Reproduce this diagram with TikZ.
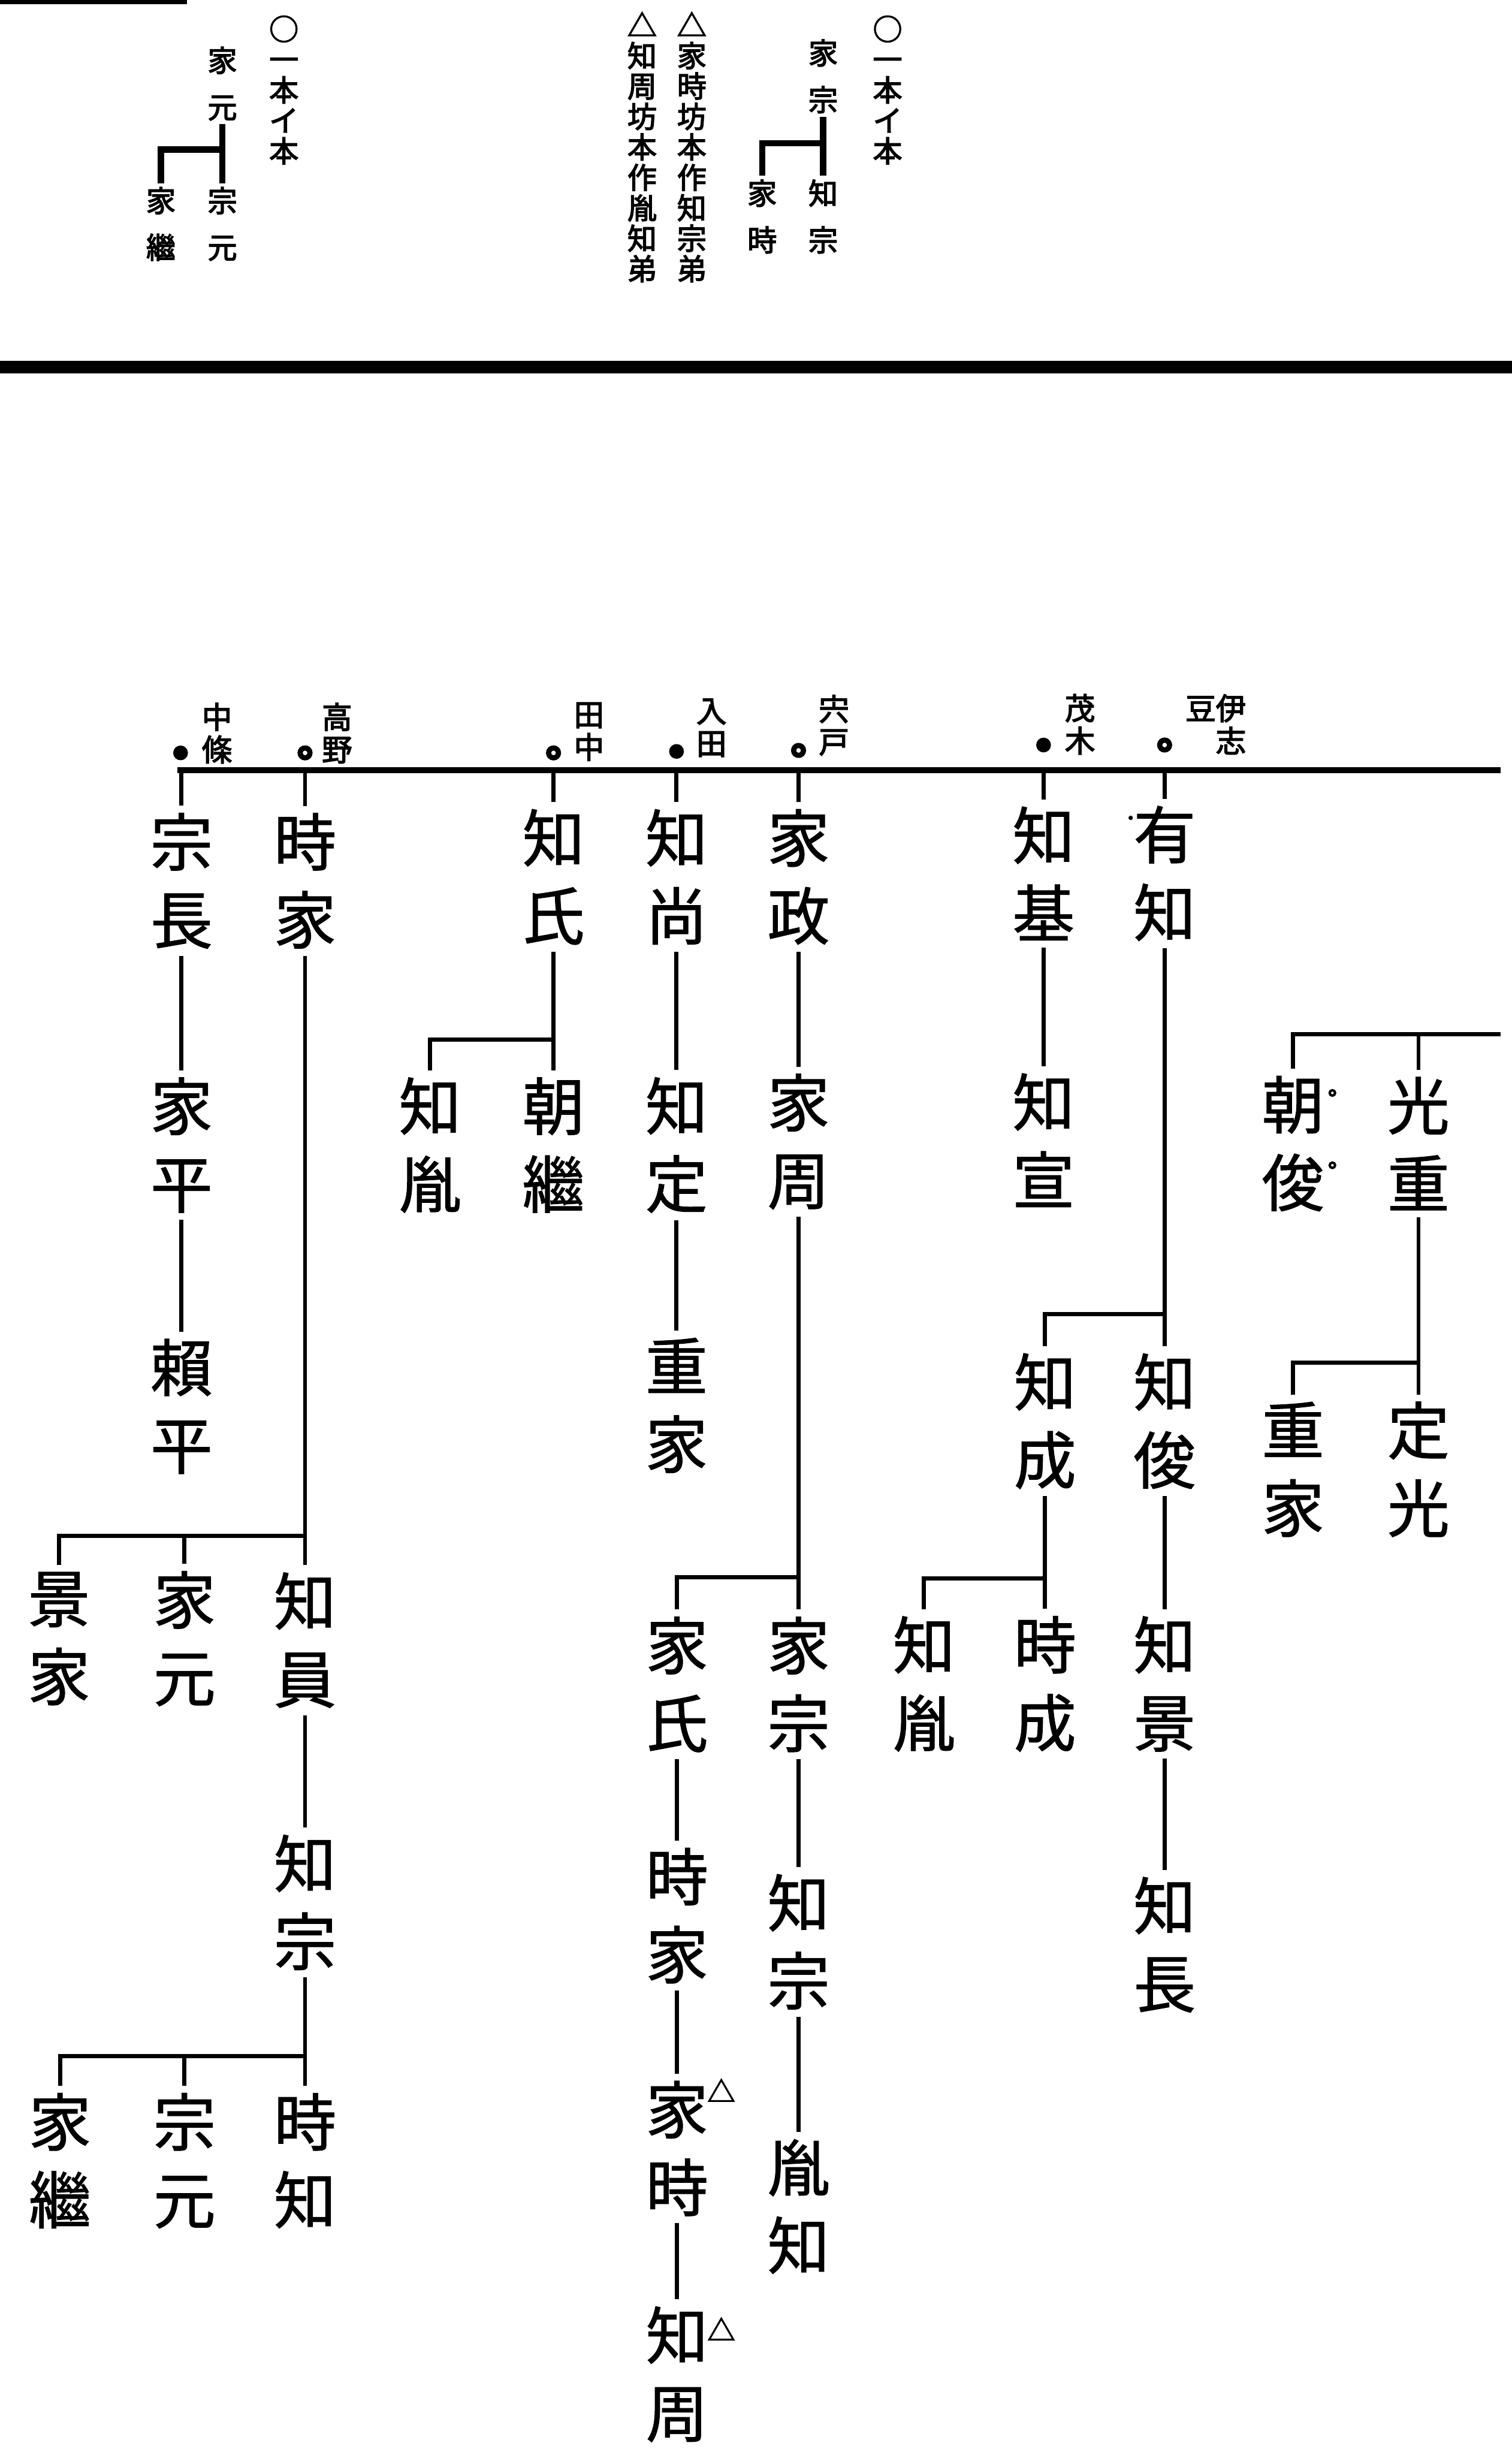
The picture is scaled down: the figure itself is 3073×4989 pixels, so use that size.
\documentclass[tikz,border=0pt]{standalone}
\usepackage{fontspec}
\newfontfamily\jp[FakeBold=1.1]{Noto Sans CJK JP}
\newfontfamily\jpb[AutoFakeBold=3]{Noto Sans CJK JP}
\usetikzlibrary{positioning}

\begin{document}
\begin{tikzpicture}[
  x=0.01cm, y=-0.01cm,
  nm/.style={font=\jp\fontsize{36}{45}\selectfont, align=center, inner xsep=0pt, inner ysep=4pt},
  lbl/.style={font=\jpb\bfseries\fontsize{17.5}{18.8}\selectfont, align=center, inner sep=0pt},
  note/.style={font=\jpb\bfseries\fontsize{17}{17.6}\selectfont, align=center, inner sep=0pt},
  tnm/.style={font=\jpb\bfseries\fontsize{17}{27}\selectfont, align=center, inner xsep=0pt, inner ysep=2pt},
  tri/.style={font=\jpb\bfseries\fontsize{16}{16}\selectfont, inner sep=0pt},
  ln/.style={line width=2.4pt},
  tln/.style={line width=3.6pt},
  sdot/.style={circle, fill, inner sep=0pt, minimum size=0.3cm},
  odot/.style={circle, draw, line width=3pt, inner sep=0pt, minimum size=0.2cm},
  rmark/.style={circle, draw, line width=1.4pt, inner sep=0pt, minimum size=0.11cm}
]
  \useasboundingbox[fill=white] (0,0) rectangle (3073,4989);

  % top part
  \fill (0,0) rectangle (380,9);
  \node[note] (alt1) at (577,183) {○\\一\\本\\イ\\本};
  \node[tnm] (ieto) at (452,170) {家\\元};
  \node[tnm] (muneto) at (452,455) {宗\\元};
  \node[tnm] (ietsu0) at (327,455) {家\\繼};
  \coordinate (tj1) at (452,304);
  \draw[tln] (ieto.south) -- (muneto.north);
  \draw[tln] (tj1) -| (ietsu0.north);

  \node[note] (tri2) at (1305,299) {△\\知\\周\\坊\\本\\作\\胤\\知\\弟};
  \node[note] (tri1) at (1406,299) {△\\家\\時\\坊\\本\\作\\知\\宗\\弟};
  \node[note] (alt2) at (1804,183) {○\\一\\本\\イ\\本};
  \node[tnm] (iemune0) at (1673,155) {家\\宗};
  \node[tnm] (tomomune0) at (1673,440) {知\\宗};
  \node[tnm] (ietoki0) at (1549,440) {家\\時};
  \coordinate (tj2) at (1673,291);
  \draw[tln] (iemune0.south) -- (tomomune0.north);
  \draw[tln] (tj2) -| (ietoki0.north);

  \draw[line width=7.4pt] (0,746) -- (3073,746);

  % branch names over the rule
  \node[lbl] (chujo) at (441,1490) {中\\條};
  \node[lbl] (takano) at (685,1490) {高\\野};
  \node[lbl] (tanaka) at (1197,1487) {田\\中};
  \node[lbl] (irita) at (1446,1479) {入\\田};
  \node[lbl] (shishido) at (1695,1474) {宍\\戸};
  \node[lbl] (motegi) at (2195,1472) {茂\\木};
  \node[lbl] (ishi) at (2471,1472) {豆伊\\\hphantom{豆}志};
  \node[sdot] (d1) at (367,1530) {};
  \node[odot] (d2) at (620,1530) {};
  \node[odot] (d3) at (1125,1530) {};
  \node[sdot] (d4) at (1375,1527) {};
  \node[odot] (d5) at (1623,1525) {};
  \node[sdot] (d6) at (2121,1514) {};
  \node[odot] (d7) at (2367,1514) {};

  \coordinate (ruleL) at (360,1565);
  \coordinate (ruleR) at (3050,1565);
  \draw[line width=3.4pt] (ruleL) -- (ruleR);

  % first generation
  \node[nm] (munenaga) at (369,1790) {宗\\長};
  \node[nm] (tokiie) at (620,1790) {時\\家};
  \node[nm] (tomouji) at (1125,1782) {知\\氏};
  \node[nm] (tomohisa) at (1375,1782) {知\\尚};
  \node[nm] (iemasa) at (1623,1782) {家\\政};
  \node[nm] (tomomoto) at (2121,1775) {知\\基};
  \node[nm] (aritomo) at (2367,1775) {有\\知};
  \node[sdot, minimum size=0.09cm] (pt1) at (2298,1662) {};

  % second row
  \node[nm] (iehira) at (369,2327) {家\\平};
  \node[nm] (tomotane) at (874,2327) {知\\胤};
  \node[nm] (asatsugu) at (1125,2327) {朝\\繼};
  \node[nm] (tomosada) at (1375,2327) {知\\定};
  \node[nm] (iechika) at (1623,2320) {家\\周};
  \node[nm] (tomonobu) at (2121,2317) {知\\宣};
  \node[nm] (asatoshi) at (2628,2324) {朝\\俊};
  \node[nm] (mitsushige) at (2883,2324) {光\\重};
  \node[rmark] (m1) at (2708,2221) {};
  \node[rmark] (m2) at (2708,2368) {};

  % third row
  \node[nm] (yorihira) at (369,2858) {賴\\平};
  \node[nm] (shigeie) at (1375,2856) {重\\家};
  \node[nm] (tomonari) at (2124,2888) {知\\成};
  \node[nm] (tomotoshi) at (2367,2888) {知\\俊};
  \node[nm] (shigeie2) at (2628,2986) {重\\家};
  \node[nm] (sadamitsu) at (2883,2986) {定\\光};

  % fourth row
  \node[nm] (kageie) at (120,3330) {景\\家};
  \node[nm] (iemoto) at (375,3330) {家\\元};
  \node[nm] (tomokazu) at (620,3333) {知\\員};
  \node[nm] (ieuji) at (1376,3423) {家\\氏};
  \node[nm] (iemune) at (1623,3423) {家\\宗};
  \node[nm] (tomotane2) at (1878,3422) {知\\胤};
  \node[nm] (tokinari) at (2124,3422) {時\\成};
  \node[nm] (tomokage) at (2367,3422) {知\\景};

  % fifth row
  \node[nm] (tomomune) at (620,3866) {知\\宗};
  \node[nm] (tokiie2) at (1376,3893) {時\\家};
  \node[nm] (tomomune2) at (1623,3946) {知\\宗};
  \node[nm] (tomonaga) at (2367,3952) {知\\長};

  % sixth row
  \node[nm] (ietsugu) at (122,4391) {家\\繼};
  \node[nm] (munemoto) at (375,4391) {宗\\元};
  \node[nm] (tokitomo) at (620,4391) {時\\知};
  \node[nm] (ietoki) at (1376,4366) {家\\時};
  \node[nm] (tanetomo) at (1623,4484) {胤\\知};
  \node[nm] (tomochika) at (1376,4825) {知\\周};
  \node[tri] (tr1) at (1466,4248) {△};
  \node[tri] (tr2) at (1466,4733) {△};

  % drops from the rule
  \foreach \n in {munenaga, tokiie, tomouji, tomohisa, iemasa, tomomoto, aritomo}
    \draw[ln] (\n.north) -- (\n.north |- ruleL);

  % lines of descent
  \draw[ln] (munenaga.south) -- (iehira.north);
  \draw[ln] (iehira.south) -- (yorihira.north);
  \draw[ln] (tokiie.south) -- (tomokazu.north);
  \coordinate (j1) at (620,3121);
  \draw[ln] (j1) -| (kageie.north);
  \draw[ln] (iemoto.north) -- (iemoto.north |- j1);
  \draw[ln] (tomokazu.south) -- (tomomune.north);
  \draw[ln] (tomomune.south) -- (tokitomo.north);
  \coordinate (j2) at (620,4178);
  \draw[ln] (j2) -| (ietsugu.north);
  \draw[ln] (munemoto.north) -- (munemoto.north |- j2);

  \draw[ln] (tomouji.south) -- (asatsugu.north);
  \coordinate (j3) at (1125,2113);
  \draw[ln] (j3) -| (tomotane.north);
  \draw[ln] (tomohisa.south) -- (tomosada.north);
  \draw[ln] (tomosada.south) -- (shigeie.north);

  \draw[ln] (iemasa.south) -- (iechika.north);
  \draw[ln] (iechika.south) -- (iemune.north);
  \coordinate (j4) at (1623,3205);
  \draw[ln] (j4) -| (ieuji.north);
  \draw[ln] (ieuji.south) -- (tokiie2.north);
  \draw[ln] (tokiie2.south) -- (ietoki.north);
  \draw[ln] (ietoki.south) -- (tomochika.north);
  \draw[ln] (iemune.south) -- (tomomune2.north);
  \draw[ln] (tomomune2.south) -- (tanetomo.north);

  \draw[ln] (tomomoto.south) -- (tomonobu.north);
  \draw[ln] (aritomo.south) -- (tomotoshi.north);
  \coordinate (j5) at (2367,2671);
  \draw[ln] (j5) -| (tomonari.north);
  \draw[ln] (tomonari.south) -- (tokinari.north);
  \coordinate (j6) at (2124,3208);
  \draw[ln] (j6) -| (tomotane2.north);
  \draw[ln] (tomotoshi.south) -- (tomokage.north);
  \draw[ln] (tomokage.south) -- (tomonaga.north);

  \coordinate (j7) at (3050,2102);
  \draw[ln] (j7) -| (asatoshi.north);
  \draw[ln] (mitsushige.north) -- (mitsushige.north |- j7);
  \draw[ln] (mitsushige.south) -- (sadamitsu.north);
  \coordinate (j8) at (2883,2769);
  \draw[ln] (j8) -| (shigeie2.north);
\end{tikzpicture}
\end{document}
